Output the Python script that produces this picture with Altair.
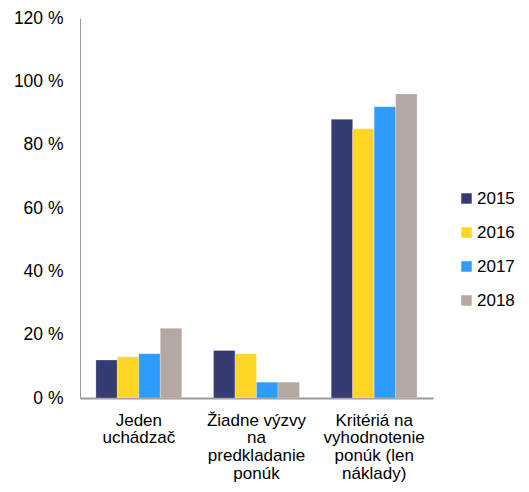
import altair as alt
import pandas as pd

categories = ["Jeden uchádzač", "Žiadne výzvy na predkladanie ponúk", "Kritériá na vyhodnotenie ponúk (len náklady)"]
label_lines = {
    "Jeden uchádzač": "Jeden|uchádzač",
    "Žiadne výzvy na predkladanie ponúk": "Žiadne výzvy|na|predkladanie|ponúk",
    "Kritériá na vyhodnotenie ponúk (len náklady)": "Kritériá na|vyhodnotenie|ponúk (len|náklady)",
}
years = ["2015", "2016", "2017", "2018"]
colors = ["#353C72", "#FFD624", "#2E9BFF", "#B5A8A1"]
v2015 = [12, 15, 88]
v2016 = [13, 14, 85]
v2017 = [14, 5, 92]
v2018 = [22, 5, 96]

rows = []
for y, vals in zip(years, [v2015, v2016, v2017, v2018]):
    for c, v in zip(categories, vals):
        rows.append({"cat": label_lines[c], "year": y, "value": v / 100})
df = pd.DataFrame(rows)
cat_order = [label_lines[c] for c in categories]

font = "Liberation Sans"
chart = alt.Chart(df).mark_bar(stroke="white", strokeOpacity=0.5, strokeWidth=0.5).encode(
    x=alt.X("cat:N", sort=cat_order, title=None,
            scale=alt.Scale(paddingInner=0.27, paddingOuter=0.135),
            axis=alt.Axis(labelAngle=0, labelExpr="split(datum.label, '|')", labelFontSize=17,
                          labelLineHeight=17.8, labelColor="#000", labelFont=font, ticks=False,
                          domainColor="#999999", domainWidth=2, labelPadding=14)),
    xOffset=alt.XOffset("year:N", sort=years),
    y=alt.Y("value:Q", title=None,
            scale=alt.Scale(domain=[0, 1.2]),
            axis=alt.Axis(values=[0, 0.2, 0.4, 0.6, 0.8, 1.0, 1.2], labelExpr="format(datum.value*100, 'd') + ' %'",
                          grid=False, ticks=False, domainColor="#999999", labelFontSize=17.5,
                          labelColor="#000", labelFont=font, labelPadding=17)),
    color=alt.Color("year:N", sort=years, scale=alt.Scale(domain=years, range=colors),
                    legend=alt.Legend(title=None, orient="none", legendX=378, legendY=172,
                                      symbolType="square", symbolSize=110, labelFontSize=17,
                                      labelFont=font, labelColor="#000", rowPadding=16,
                                      symbolStrokeWidth=0, labelOffset=2)),
).properties(
    width=353, height=380,
    autosize=alt.AutoSizeParams(type="none"),
    padding={"left": 72, "top": 10, "right": 88, "bottom": 84},
).configure_view(stroke=None)

chart.save("out.html", embed_options={"renderer": "svg", "actions": False})
